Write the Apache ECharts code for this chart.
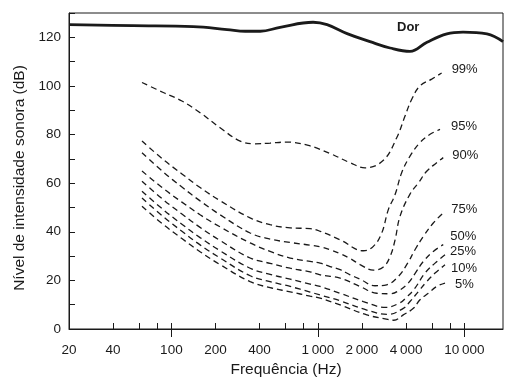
<!DOCTYPE html>
<html>
<head>
<meta charset="utf-8">
<script src="https://cdn.jsdelivr.net/npm/echarts@6/dist/echarts.min.js"></script>
<style>
html,body{margin:0;padding:0;background:#fff;}
#c{width:520px;height:385px;}
</style>
</head>
<body>
<div id="c"></div>
<script>
// Axis ranges and ticks
const X_MIN = 20, X_MAX = 18360;
const freqTicks = [40, 60, 80, 100, 200, 400, 600, 800, 1000, 2000, 4000, 6000, 8000, 10000];
const freqMajorTicks = [100, 1000, 10000];
const freqLabels = [20, 40, 100, 200, 400, 1000, 2000, 4000, 10000];
const yLabels = [0, 20, 40, 60, 80, 100, 120];

// Pain threshold ("Dor")
const dorFreq  = [20, 55, 141, 240, 319, 404, 552, 928, 1156, 1584, 2270, 3112, 4256, 5560, 7600, 9796, 14260, 18360];
const dorLevel = [125.2, 124.8, 124.4, 123.2, 122.5, 122.5, 124.1, 126.2, 125.2, 121.5, 118.2, 115.6, 114.2, 118, 121.4, 122.1, 121.4, 118.2];

// Percentile hearing curves
const p99Freq  = [63, 88, 118, 157, 215, 295, 373, 472, 614, 861, 1211, 1660, 2100, 2800, 3454, 3936, 4375, 4978, 5984, 6998];
const p99Level = [101.4, 97.3, 93.8, 89, 82.8, 77.3, 76.2, 76.5, 76.9, 75.5, 72.2, 68.4, 66.3, 69.4, 78.7, 87.6, 94.5, 100, 102.8, 105.3];

const p95Freq  = [63, 88, 118, 157, 215, 345, 472, 647, 885, 1036, 1418, 2046, 2393, 2730, 3027, 3366, 3733, 4256, 4978, 5834, 6823];
const p95Level = [77.3, 69.7, 63.8, 58.2, 52.8, 45.7, 42.9, 41.6, 41.3, 40.2, 36.7, 32.2, 34, 39.5, 49.1, 55.3, 64.3, 71.1, 76.7, 80.1, 82.1];

const p90Freq  = [63, 88, 118, 157, 215, 345, 472, 647, 885, 1036, 1211, 1418, 1660, 1942, 2393, 2800, 3112, 3366, 3640, 4256, 4853, 5534, 6471, 7178];
const p90Level = [72.5, 64.6, 58.4, 52.7, 47, 39.5, 37, 35.6, 34.5, 33.8, 32.6, 31, 29, 26.5, 24.2, 25.5, 29.8, 36.7, 46.4, 55.5, 60.1, 64.9, 68.4, 70.5];

const p75Freq  = [63, 88, 118, 157, 215, 345, 472, 647, 885, 1036, 1211, 1418, 1660, 1942, 2456, 2952, 3540, 4100, 4603, 5248, 6138, 7178];
const p75Level = [65, 57.8, 52.2, 47, 42, 35.4, 31.9, 29.2, 27.8, 27.1, 25.7, 24.4, 22.3, 20.5, 17.8, 18.2, 21.6, 27.1, 32.6, 38.1, 43.6, 47.8];

const p50Freq  = [63, 88, 118, 157, 215, 345, 472, 647, 885, 1036, 1418, 1942, 2524, 3112, 3640, 4150, 4603, 5248, 6138, 7178];
const p50Level = [60.8, 53.2, 47.3, 41.8, 36.4, 29.2, 27, 25, 23.5, 22.3, 20.9, 17.5, 14.7, 14.5, 16.1, 19, 22.8, 27.8, 31.9, 34.7];

const p25Freq  = [63, 88, 118, 157, 215, 345, 472, 647, 885, 1036, 1418, 2046, 2900, 3640, 4046, 4550, 5383, 6310, 7379];
const p25Level = [56.7, 49.1, 43.1, 37.6, 32.2, 25, 22.5, 20.5, 18.5, 17.5, 14.7, 11.3, 8.9, 10.8, 13.2, 16.4, 23, 27.1, 30.5];

const p10Freq  = [63, 88, 118, 157, 215, 345, 472, 647, 885, 1036, 1418, 2158, 3000, 3828, 4256, 4853, 5534, 6310, 7379];
const p10Level = [53.9, 46.2, 40.2, 34.6, 29.2, 21.9, 19.5, 17.5, 15.2, 14, 11.6, 7.8, 6, 8.5, 11.3, 15.4, 19.5, 23, 26.4];

const p5Freq   = [63, 88, 118, 157, 215, 345, 472, 647, 885, 1036, 1418, 2158, 2877, 3300, 3828, 4488, 4978, 5676, 6471, 7379];
const p5Level  = [50.5, 43, 37.2, 31.8, 26.5, 19.5, 17, 15.3, 13.5, 12.7, 9.9, 5.8, 4.2, 3.6, 5.8, 8.5, 12, 14.7, 17.5, 18.9];

const FONT = '"Liberation Sans", Arial, Helvetica, sans-serif';
const INK = '#1a1a1a';
const lg = v => Math.log10(v);
const pts = (fs, ls) => fs.map((f, i) => [lg(f), ls[i]]);
const fmtFreq = v => {
  const n = Math.round(Math.pow(10, v));
  return n >= 1000 ? String(n).replace(/(\d)(?=(\d{3})+$)/g, '$1\u2009') : String(n);
};

const curves = [
  { name: '99%', f: p99Freq, l: p99Level, dist: 10, dy: -4 },
  { name: '95%', f: p95Freq, l: p95Level, dist: 11, dy: -3 },
  { name: '90%', f: p90Freq, l: p90Level, dist: 9, dy: -2 },
  { name: '75%', f: p75Freq, l: p75Level, dist: 8, dy: -3 },
  { name: '50%', f: p50Freq, l: p50Level, dist: 7, dy: -8 },
  { name: '25%', f: p25Freq, l: p25Level, dist: 5, dy: -3 },
  { name: '10%', f: p10Freq, l: p10Level, dist: 6, dy: 4 },
  { name: '5%',  f: p5Freq,  l: p5Level,  dist: 10, dy: 1 }
];

const series = [{
  name: 'Dor', type: 'line', data: pts(dorFreq, dorLevel),
  showSymbol: false, smooth: 0.4,
  lineStyle: { color: INK, width: 2.8 }, silent: true
}].concat(curves.map(c => ({
  name: c.name, type: 'line', data: pts(c.f, c.l),
  showSymbol: false, smooth: 0.4, silent: true,
  lineStyle: { color: INK, width: 1.3, type: [6, 4] },
  endLabel: { show: true, formatter: c.name, color: INK, fontSize: 13, fontFamily: FONT,
              distance: c.dist, offset: [0, c.dy] }
})));

const chart = echarts.init(document.getElementById('c'), null, { renderer: 'canvas' });
chart.setOption({
  animation: false,
  backgroundColor: '#fff',
  textStyle: { fontFamily: FONT, color: INK },
  grid: { left: 69, right: 17, top: 13, bottom: 56, show: true, borderColor: INK, borderWidth: 1,
          containLabel: false, outerBoundsMode: 'none' },
  graphic: [{ type: 'text', left: 397, top: 21,
              style: { text: 'Dor', font: 'bold 13px ' + FONT, fill: INK } }],
  xAxis: [{
    type: 'value', min: lg(X_MIN), max: lg(X_MAX),
    name: 'Frequência (Hz)', nameLocation: 'middle', nameGap: 30,
    nameTextStyle: { fontSize: 15.5, color: INK, fontFamily: FONT },
    axisLine: { show: true, lineStyle: { color: INK, width: 1 } },
    axisTick: { show: true, inside: true, length: 6, customValues: freqTicks.map(lg), lineStyle: { color: INK } },
    axisLabel: { show: true, customValues: freqLabels.map(lg), formatter: fmtFreq, margin: 14,
                 fontSize: 13.5, color: INK, fontFamily: FONT },
    splitLine: { show: false }
  }, {
    type: 'value', min: lg(X_MIN), max: lg(X_MAX), position: 'bottom',
    axisLine: { show: false },
    axisTick: { show: true, inside: false, length: 8, customValues: freqMajorTicks.map(lg), lineStyle: { color: INK } },
    axisLabel: { show: false },
    splitLine: { show: false }
  }],
  yAxis: {
    type: 'value', min: 0, max: 130, interval: 10,
    name: 'Nível de intensidade sonora (dB)', nameLocation: 'middle', nameGap: 40,
    nameTextStyle: { fontSize: 15.5, color: INK, fontFamily: FONT, padding: [0, 14, 0, 0] },
    axisLine: { show: true, lineStyle: { color: INK, width: 1 } },
    axisTick: { show: true, inside: true, length: 6, lineStyle: { color: INK } },
    axisLabel: { formatter: v => (yLabels.indexOf(v) >= 0 ? String(v) : ''), margin: 8,
                 fontSize: 13.5, color: INK, fontFamily: FONT },
    splitLine: { show: false }
  },
  series: series
});
</script>
</body>
</html>
